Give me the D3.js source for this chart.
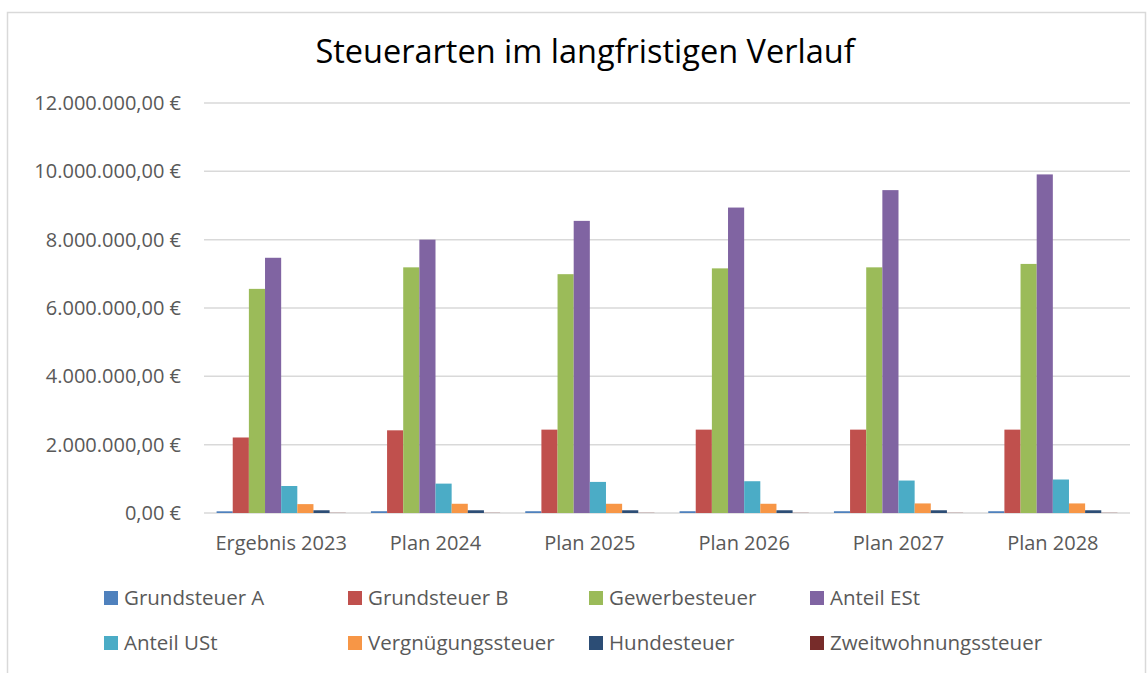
<!DOCTYPE html>
<html>
<head>
<meta charset="utf-8">
<script src="https://cdn.jsdelivr.net/npm/d3@7"></script>
<style>
    body { margin: 0; background: #fff; }
    text { font-family: "Open Sans", sans-serif; }
</style>
</head>
<body>
<div id="chart"></div>
<script>
// Tax data
var categories = ["Ergebnis 2023", "Plan 2024", "Plan 2025", "Plan 2026", "Plan 2027", "Plan 2028"];
var seriesNames = ["Grundsteuer A", "Grundsteuer B", "Gewerbesteuer", "Anteil ESt",
    "Anteil USt", "Vergnügungssteuer", "Hundesteuer", "Zweitwohnungssteuer"];
var grundsteuerA = [50000, 52000, 52000, 52000, 52000, 52000];
var grundsteuerB = [2210000, 2420000, 2440000, 2440000, 2440000, 2440000];
var gewerbesteuer = [6560000, 7190000, 6990000, 7160000, 7190000, 7290000];
var anteilESt = [7470000, 8000000, 8550000, 8940000, 9450000, 9910000];
var anteilUSt = [790000, 860000, 910000, 930000, 950000, 980000];
var vergnuegungssteuer = [260000, 270000, 270000, 270000, 280000, 280000];
var hundesteuer = [80000, 80000, 80000, 80000, 80000, 80000];
var zweitwohnungssteuer = [5000, 5000, 5000, 5000, 5000, 5000];
var yTicks = [0, 2000000, 4000000, 6000000, 8000000, 10000000, 12000000];

var series = [grundsteuerA, grundsteuerB, gewerbesteuer, anteilESt,
    anteilUSt, vergnuegungssteuer, hundesteuer, zweitwohnungssteuer];
var colors = ["#4f81bd", "#c0504d", "#9bbb59", "#8064a2",
    "#4bacc6", "#f79646", "#2c4d75", "#772c2a"];

var width = 1148, height = 673;
// plot area (note: "top" is reserved on window)
var plotLeft = 204, plotRight = 1130, plotTop = 103, plotBottom = 513;

var svg = d3.select("#chart")
    .append("svg")
    .attr("width", width)
    .attr("height", height);

// Chart frame
svg.append("rect")
    .attr("x", 7.5)
    .attr("y", 12.5)
    .attr("width", 1138)
    .attr("height", 680)
    .attr("fill", "none")
    .attr("stroke", "#d9d9d9")
    .attr("stroke-width", 1.5);

// Title
svg.append("text")
    .attr("x", 585)
    .attr("y", 63)
    .attr("text-anchor", "middle")
    .attr("font-size", "32.5px")
    .attr("fill", "#000")
    .text("Steuerarten im langfristigen Verlauf");

// Scales
var x = d3.scaleBand()
    .domain(categories)
    .range([plotLeft, plotRight]);

var xInner = d3.scaleBand()
    .domain(seriesNames)
    .range([0, x.bandwidth()])
    .paddingInner(0)
    .paddingOuter(0.78);

var y = d3.scaleLinear()
    .domain([0, 12000000])
    .range([plotBottom, plotTop]);

var fmt = d3.formatLocale({ decimal: ",", thousands: ".", grouping: [3], currency: ["", " €"] })
    .format("$,.2f");

// Gridlines
svg.append("g")
    .selectAll("line")
    .data(yTicks)
    .enter()
    .append("line")
    .attr("x1", plotLeft)
    .attr("x2", plotRight)
    .attr("y1", d => y(d))
    .attr("y2", d => y(d))
    .attr("stroke", "#d9d9d9")
    .attr("stroke-width", 1.5);

// Y axis labels
var yAxis = svg.append("g")
    .attr("transform", "translate(" + (plotLeft - 14) + ",0)")
    .call(d3.axisLeft(y).tickValues(yTicks).tickFormat(fmt).tickSize(0).tickPadding(9));
yAxis.select(".domain").remove();
yAxis.selectAll("text")
    .attr("font-family", "Open Sans, sans-serif")
    .attr("font-size", "20px")
    .attr("fill", "#595959");

// Bars
for (var s = 0; s < series.length; s++) {
    svg.append("g")
        .attr("fill", colors[s])
        .selectAll("rect")
        .data(series[s])
        .enter()
        .append("rect")
        .attr("x", (d, i) => x(categories[i]) + xInner(seriesNames[s]))
        .attr("width", xInner.bandwidth())
        .attr("y", d => y(d))
        .attr("height", d => plotBottom - y(d));
}

// X axis labels
var xAxis = svg.append("g")
    .attr("transform", "translate(0," + plotBottom + ")")
    .call(d3.axisBottom(x).tickSize(0).tickPadding(23));
xAxis.select(".domain").remove();
xAxis.selectAll("text")
    .attr("font-family", "Open Sans, sans-serif")
    .attr("font-size", "20px")
    .attr("fill", "#595959");

// Legend
var legendCols = [104, 348, 589, 810];
var legendRows = [591, 636];

var legend = svg.selectAll(".legend")
    .data(seriesNames)
    .enter()
    .append("g")
    .attr("class", "legend")
    .attr("transform", (d, i) => "translate(" + legendCols[i % 4] + "," + legendRows[Math.floor(i / 4)] + ")");

legend.append("rect")
    .attr("width", 14)
    .attr("height", 14)
    .attr("fill", (d, i) => colors[i]);

legend.append("text")
    .attr("x", 20)
    .attr("y", 14)
    .attr("font-size", "20.5px")
    .attr("fill", "#595959")
    .text(d => d);
</script>
</body>
</html>
